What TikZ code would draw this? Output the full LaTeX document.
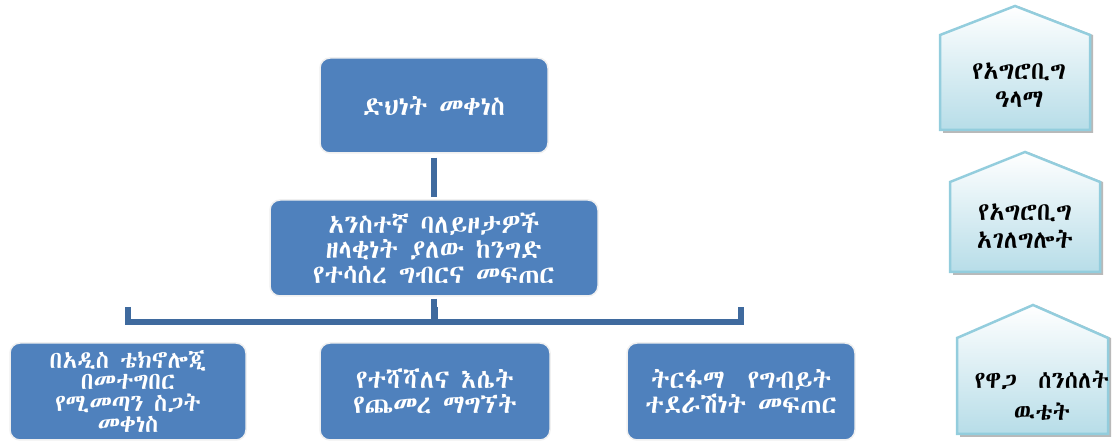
\documentclass[tikz,border=0pt]{standalone}
\usepackage{fontspec}
\IfFontExistsTF{Abyssinica SIL}{\newfontfamily\ethfont{Abyssinica SIL}}{%
  \IfFontExistsTF{FreeSerif}{\newfontfamily\ethfont{FreeSerif}}{%
    \newfontfamily\ethfont{DejaVu Sans}}}
\definecolor{boxblue}{HTML}{4F81BD}
\definecolor{linkblue}{HTML}{3F6A9E}
\definecolor{houseedge}{HTML}{93CDDD}
\definecolor{housefill}{HTML}{B7DDE8}
\begin{document}
\begin{tikzpicture}[x=1pt,y=1pt,
  bluebox/.style={rectangle, rounded corners=10pt, fill=boxblue, draw=gray!12,
    line width=1.5pt, text=white, align=center, inner sep=0pt,
    font=\ethfont\fontsize{26}{25}\selectfont},
  link/.style={draw=linkblue, line width=6pt},
  houseshadow/.style={fill=gray!55},
  houseshape/.style={top color=white, bottom color=housefill, draw=houseedge, line width=2.5pt, line join=miter},
  housetext/.style={align=center, text=black, inner sep=0pt,
    font=\ethfont\fontsize{25}{28}\selectfont}]
\useasboundingbox (0,0) rectangle (1112,444);

% main hierarchy
\node[bluebox, minimum width=228, minimum height=95] (goal) at (434,338.5) {ድህነት መቀነስ};
\node[bluebox, minimum width=328, minimum height=96] (purpose) at (434,196)
  {አንስተኛ ባለይዞታዎች\\ዘላቂነት ያለው ከንግድ\\የተሳሰረ ግብርና መፍጠር};
\node[bluebox, minimum width=236, minimum height=97, font=\ethfont\fontsize{24}{21.5}\selectfont] (out1) at (128,52.5)
  {በአዲስ ቴክኖሎጂ\\በመተግበር\\የሚመጣን ስጋት\\መቀነስ};
\node[bluebox, minimum width=230, minimum height=97] (out2) at (435,52.5)
  {የተሻሻለና እሴት\\የጨመረ ማግኘት};
\node[bluebox, minimum width=228, minimum height=97] (out3) at (741,52.5)
  {ትርፋማ \ የግብይት\\ተደራሽነት መፍጠር};

\coordinate (bar) at (434,122);
\draw[link, shorten <=4pt, shorten >=2pt] (goal.south) -- (purpose.north);
\draw[link, shorten <=2pt] (purpose.south) -- (bar);
\draw[link, line join=miter] (out1.north |- 0,137) -- (out1.north |- bar) -- (out3.north |- bar) -- (out3.north |- 0,137);
\draw[link] (out2.north |- 0,137) -- (out2.north |- bar);

% houses
\fill[houseshadow] (943,311) -- (943,409) -- (1018,438) -- (1093,409) -- (1093,311) -- cycle;
\path[houseshape] (940,314) -- (940,409) -- (1015,438) -- (1090,409) -- (1090,314) -- cycle;
\node[housetext] (h1) at (1019,359) {የአግሮቢግ\\ዓላማ};

\fill[houseshadow] (953,169) -- (953,262) -- (1028,292) -- (1103,262) -- (1103,169) -- cycle;
\path[houseshape] (950,172) -- (950,262) -- (1025,292) -- (1100,262) -- (1100,172) -- cycle;
\node[housetext] (h2) at (1025,218) {የአግሮቢግ\\አገለግሎት};

\fill[houseshadow] (960,7) -- (960,106) -- (1036,139) -- (1111,106) -- (1111,7) -- cycle;
\path[houseshape] (957,10) -- (957,106) -- (1033,139) -- (1108,106) -- (1108,10) -- cycle;
\node[housetext, font=\ethfont\fontsize{24}{32}\selectfont] (h3) at (1042,48) {የዋጋ \ ሰንሰለት\\ዉቴት};
\end{tikzpicture}
\end{document}
